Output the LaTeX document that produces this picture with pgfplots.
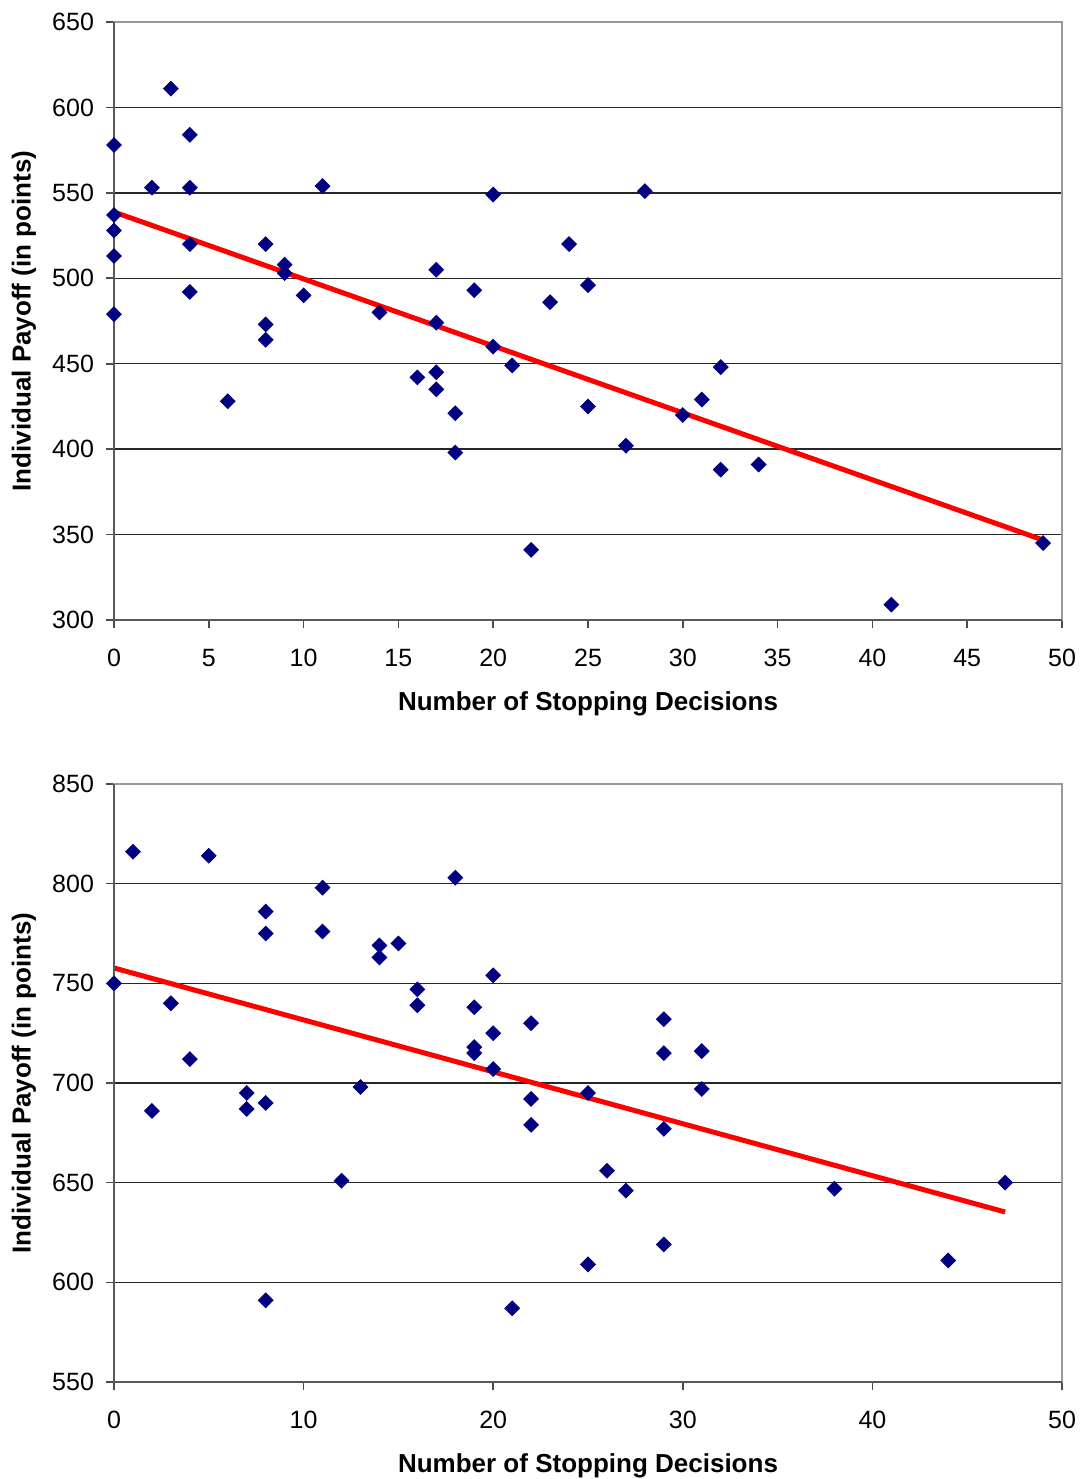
\documentclass[border=0pt]{standalone}
\usepackage{fontspec}
\setmainfont{Liberation Sans}
\usepackage{pgfplots}
\pgfplotsset{compat=1.18}
\definecolor{navy}{HTML}{000080}
\pgfplotsset{mystyle/.style={
  scale only axis, width=474bp, height=299bp,
  xmin=0, xmax=50,
  axis line style={black!40, line width=0.9bp},
  xtick pos=bottom, ytick pos=left,
  tick align=outside, major tick length=4bp,
  tick style={black!70, line width=0.8bp},
  ymajorgrids, grid style={black!85, line width=0.7bp},
  ticklabel style={font=\fontsize{12.5bp}{14bp}\selectfont},
  xticklabel style={yshift=-7bp},
  yticklabel style={xshift=-2.5bp},
  /pgf/number format/assume math mode=true,
  label style={font=\bfseries\fontsize{13bp}{15bp}\selectfont},
  xlabel style={at={(axis description cs:0.5,0)}, anchor=center, yshift=-42bp},
  ylabel style={at={(axis description cs:0,0.5)}, anchor=center, yshift=45bp},
  xlabel={Number of Stopping Decisions},
  ylabel={Individual Payoff (in points)},
  clip=false,
}}
\pgfplotsset{pts/.style={only marks, mark=square*, mark size=2.6bp, color=navy, mark options={rotate=45}}}
\begin{document}
\begin{tikzpicture}
\useasboundingbox (-57bp,-429.5bp) rectangle (483.5bp,310bp);
\begin{axis}[mystyle, at={(0,0)}, anchor=south west,
  ymin=300, ymax=650, ytick={300,350,...,650}, xtick={0,5,...,50}]
\addplot[pts] table {
x y
0 578
0 537
0 528
0 513
0 479
2 553
3 611
4 584
4 553
4 520
4 492
6 428
8 520
8 473
8 464
9 508
9 503
10 490
11 554
14 480
16 442
17 505
17 474
17 445
17 435
18 421
18 398
19 493
20 549
20 460
21 449
22 341
23 486
24 520
25 496
25 425
27 402
28 551
30 420
31 429
32 448
32 388
34 391
41 309
49 345
};
\addplot[red, line width=2.5bp, no marks] coordinates {(0,538.8) (49,346.8)};
\draw[black!65, line width=1bp] (rel axis cs:0,1) -- (rel axis cs:0,0) -- (rel axis cs:1,0);
\end{axis}
\begin{axis}[mystyle, at={(0,-381bp)}, anchor=south west,
  ymin=550, ymax=850, ytick={550,600,...,850}, xtick={0,10,...,50}]
\addplot[pts] table {
x y
0 750
1 816
2 686
3 740
4 712
5 814
7 695
7 687
8 786
8 775
8 690
8 591
11 798
11 776
12 651
13 698
14 769
14 763
15 770
16 747
16 739
18 803
19 738
19 718
19 715
20 754
20 725
20 707
21 587
22 730
22 692
22 679
25 695
25 609
26 656
27 646
29 732
29 715
29 677
29 619
31 716
31 697
38 647
44 611
47 650
};
\addplot[red, line width=2.5bp, no marks] coordinates {(0,757.7) (47,635.3)};
\draw[black!65, line width=1bp] (rel axis cs:0,1) -- (rel axis cs:0,0) -- (rel axis cs:1,0);
\end{axis}
\end{tikzpicture}
\end{document}
